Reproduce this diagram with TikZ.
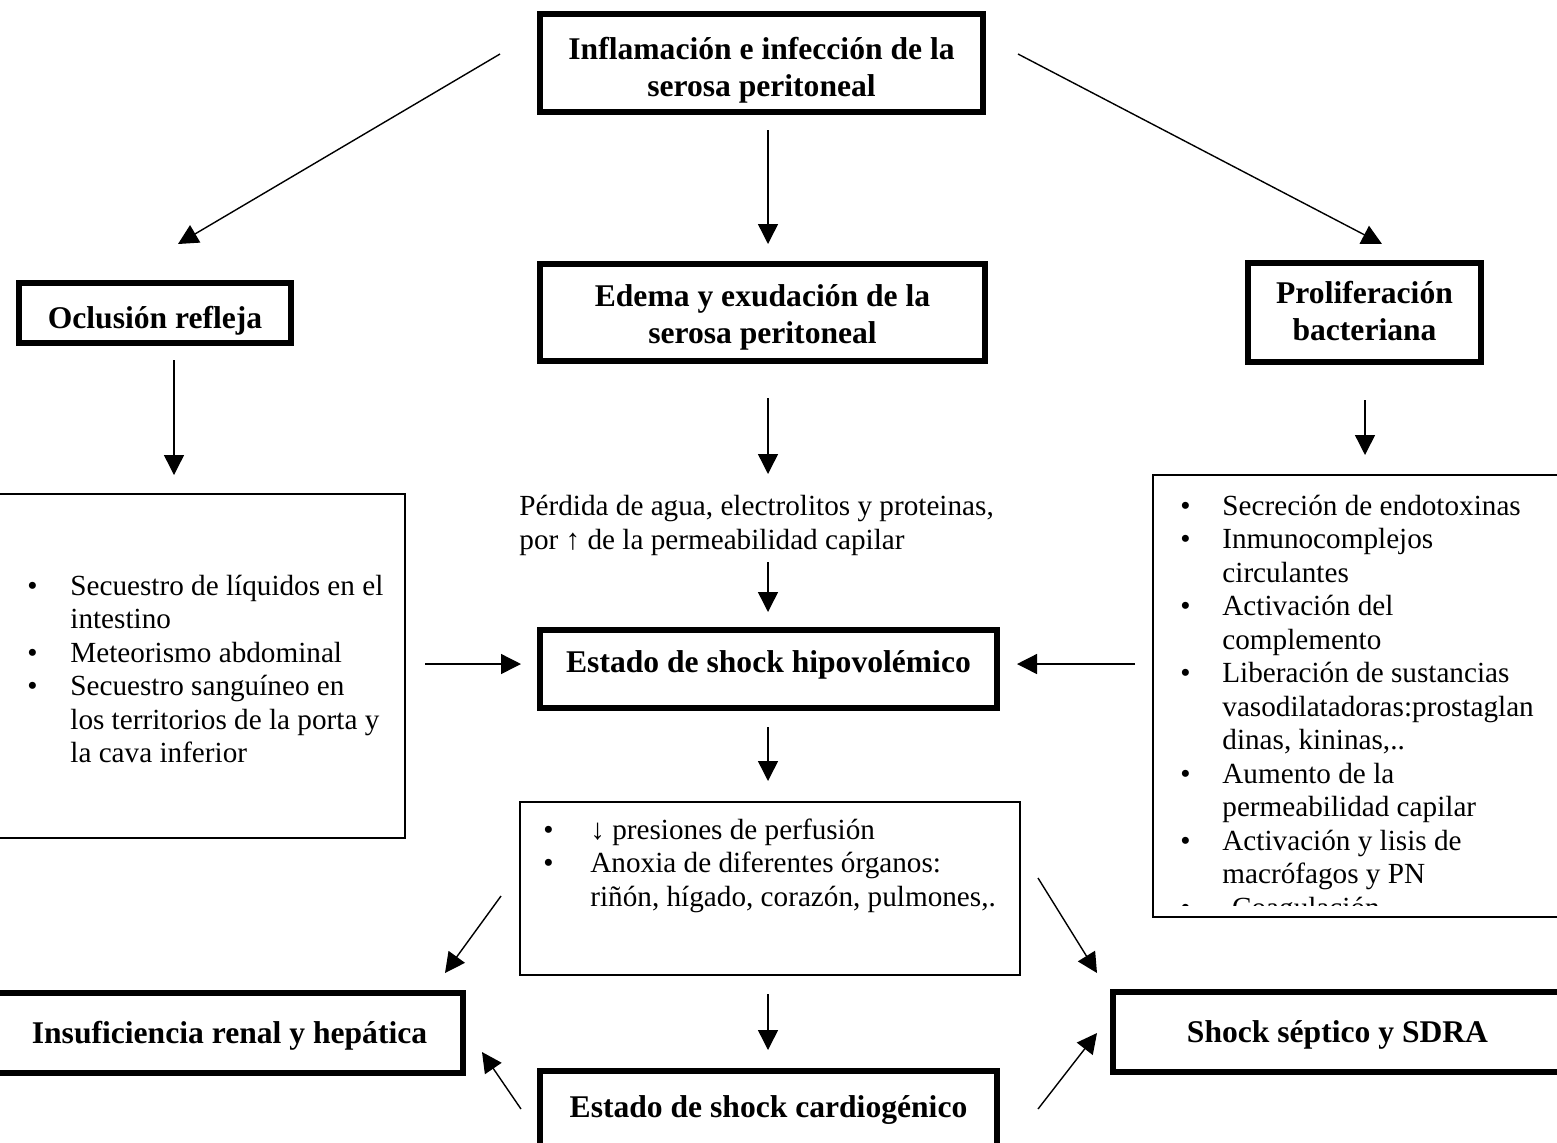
\documentclass[tikz,border=0pt]{standalone}
\usepackage{fontspec}
\setmainfont{Liberation Serif}
\usetikzlibrary{arrows.meta}
\newcommand{\lowertext}[2]{\raisebox{-#1}[\height][\depth]{\begin{tabular}{@{}c@{}}#2\end{tabular}}}
\begin{document}
\begin{tikzpicture}[x=0.5pt,y=-0.5pt,
  thickbox/.style={draw, line width=2.6pt, inner sep=0pt, align=center, font=\fontsize{15.8}{18.5}\selectfont\bfseries},
  thinbox/.style={draw, line width=0.8pt, inner sep=0pt},
  listtext/.style={inner sep=0pt, anchor=north west, font=\fontsize{14.6}{16.75}\selectfont},
  arr/.style={line width=0.7pt, -{Triangle[length=10pt,width=10pt]}}]
\useasboundingbox (0,0) rectangle (1557,1142);
\clip (0,0) rectangle (1557,1142);

% thick boxes
\node[thickbox, minimum width=221.5pt, minimum height=49pt] (T) at (761.5,63) {\lowertext{3.75pt}{Inflamación e infección de la\\serosa peritoneal}};
\node[thickbox, minimum width=136pt, minimum height=30pt] (O) at (155,313) {\lowertext{4pt}{Oclusión refleja}};
\node[thickbox, minimum width=222.5pt, minimum height=48.5pt] (E) at (762.5,312.5) {\lowertext{2.5pt}{Edema y exudación de la\\serosa peritoneal}};
\node[thickbox, minimum width=116.5pt, minimum height=49.5pt] (P) at (1364.5,312.5) {\lowertext{1.25pt}{Proliferación\\bacteriana}};
\node[thickbox, minimum width=228.5pt, minimum height=39pt] (H) at (768.5,669) {\lowertext{-2pt}{Estado de shock hipovolémico}};
\node[thickbox, minimum width=233.5pt, minimum height=40pt] (I) at (229.5,1033) {\lowertext{1.5pt}{Insuficiencia renal y hepática}};
\node[thickbox, minimum width=224.5pt, minimum height=40pt] (S) at (1337.5,1032) {\lowertext{1.5pt}{Shock séptico y SDRA}};
\node[thickbox, minimum width=228.5pt, minimum height=39pt] (C) at (768.5,1110) {Estado de shock cardiogénico};

% thin boxes
\node[thinbox, minimum width=207.5pt, minimum height=172pt] (L) at (197.5,666) {};
\node[thinbox, minimum width=208.5pt, minimum height=221pt] (R) at (1361.5,696) {};
\node[thinbox, minimum width=250pt, minimum height=86.5pt] (M) at (770,888.5) {};

% texts
\node[listtext] (Lt) at (27,571.5) {\begin{tabular}{@{}p{21.5pt}@{}l@{}}
• & Secuestro de líquidos en el\\
  & intestino\\
• & Meteorismo abdominal\\
• & Secuestro sanguíneo en\\
  & los territorios de la porta y\\
  & la cava inferior
\end{tabular}};

\begin{scope}
\clip (1153,477) rectangle (1557,905);
\node[listtext] (Rt) at (1180,491.5) {\begin{tabular}{@{}p{21pt}@{}l@{}}
• & Secreción de endotoxinas\\
• & Inmunocomplejos\\
  & circulantes\\
• & Activación del\\
  & complemento\\
• & Liberación de sustancias\\
  & vasodilatadoras:prostaglan\\
  & dinas, kininas,..\\
• & Aumento de la\\
  & permeabilidad capilar\\
• & Activación y lisis de\\
  & macrófagos y PN\\
• & -Coagulación
\end{tabular}};
\end{scope}

\node[listtext] (Mt) at (543,815.5) {\begin{tabular}{@{}p{23.5pt}@{}l@{}}
• & ↓ presiones de perfusión\\
• & Anoxia de diferentes órganos:\\
  & riñón, hígado, corazón, pulmones,.
\end{tabular}};

\node[listtext] (Pt) at (519,492) {\begin{tabular}{@{}l@{}}
Pérdida de agua, electrolitos y proteinas,\\
por ↑ de la permeabilidad capilar
\end{tabular}};

% arrow end points
\coordinate (a1s) at (500,54);   \coordinate (a1e) at (178,244);
\coordinate (a2s) at (768,130);  \coordinate (a2e) at (768,244);
\coordinate (a3s) at (1018,54);  \coordinate (a3e) at (1382,244);
\coordinate (a4s) at (174,360);  \coordinate (a4e) at (174,475);
\coordinate (a5s) at (768,398);  \coordinate (a5e) at (768,474);
\coordinate (a6s) at (1365,400); \coordinate (a6e) at (1365,455);
\coordinate (a7s) at (768,562);  \coordinate (a7e) at (768,612);
\coordinate (a8s) at (425,664);  \coordinate (a8e) at (521,664);
\coordinate (a9s) at (1135,664); \coordinate (a9e) at (1017,664);
\coordinate (a10s) at (768,727); \coordinate (a10e) at (768,781);
\coordinate (a11s) at (501,896); \coordinate (a11e) at (445,973);
\coordinate (a12s) at (1038,878); \coordinate (a12e) at (1097,973);
\coordinate (a13s) at (768,994); \coordinate (a13e) at (768,1050);
\coordinate (a14s) at (521,1109); \coordinate (a14e) at (482,1052);
\coordinate (a15s) at (1038,1109); \coordinate (a15e) at (1097,1033);

\draw[arr] (a1s) -- (a1e);
\draw[arr] (a2s) -- (a2e);
\draw[arr] (a3s) -- (a3e);
\draw[arr] (a4s) -- (a4e);
\draw[arr] (a5s) -- (a5e);
\draw[arr] (a6s) -- (a6e);
\draw[arr] (a7s) -- (a7e);
\draw[arr] (a8s) -- (a8e);
\draw[arr] (a9s) -- (a9e);
\draw[arr] (a10s) -- (a10e);
\draw[arr] (a11s) -- (a11e);
\draw[arr] (a12s) -- (a12e);
\draw[arr] (a13s) -- (a13e);
\draw[arr] (a14s) -- (a14e);
\draw[arr] (a15s) -- (a15e);
\end{tikzpicture}
\end{document}
